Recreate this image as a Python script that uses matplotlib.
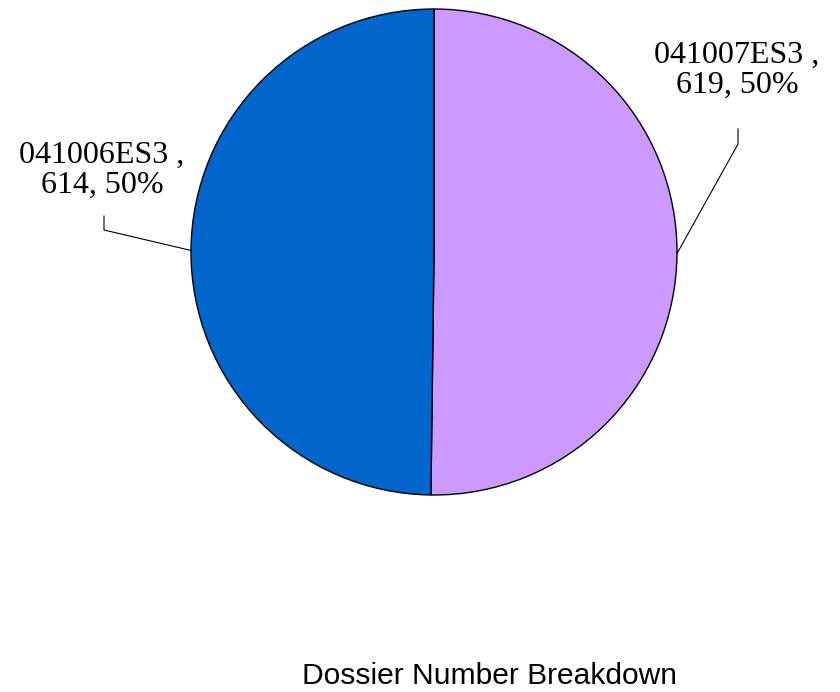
import numpy as np
import matplotlib
matplotlib.use("Agg")
import matplotlib.pyplot as plt

# 数据
labels = ["041007ES3", "041006ES3"]
values = [619, 614]
colors = ["#CC99FF", "#0066CC"]
title = "Dossier Number Breakdown"

W, H = 840, 692
fig = plt.figure(figsize=(W / 100, H / 100), dpi=100)
ax = fig.add_axes([0, 0, 1, 1])

cx, cy, r = 434, H - 252, 243
wedges, _ = ax.pie(values, colors=colors, startangle=90, counterclock=False,
                   center=(cx, cy), radius=r, frame=True,
                   wedgeprops=dict(edgecolor="black", linewidth=1.0))
ax.set_xlim(0, W)
ax.set_ylim(0, H)
ax.set_aspect("equal")
ax.axis("off")

total = sum(values)
# 标签：肘点、竖线顶端、文字中心
label_cfg = [
    dict(elbow=(738, H - 144), top=H - 129, text=(737, H - 70)),
    dict(elbow=(104, H - 230), top=H - 216, text=(102, H - 170)),
]
for w, lab, v, cfg in zip(wedges, labels, values, label_cfg):
    ang = np.deg2rad((w.theta1 + w.theta2) / 2)
    x0 = cx + r * np.cos(ang)
    y0 = cy + r * np.sin(ang)
    ex, ey = cfg["elbow"]
    ax.plot([x0, ex, ex], [y0, ey, cfg["top"]], color="black", lw=0.8)
    pct = round(v / total * 100)
    ax.text(cfg["text"][0], cfg["text"][1], f"{lab} ,\n{v}, {pct}%",
            ha="center", va="center", fontsize=23, linespacing=1.05,
            family=["Liberation Serif", "DejaVu Serif"])

ax.text(490, 16, title, ha="center", va="center", fontsize=21.6,
        family=["Liberation Sans", "DejaVu Sans"])

fig.savefig("out.png", dpi=100, facecolor="white")
